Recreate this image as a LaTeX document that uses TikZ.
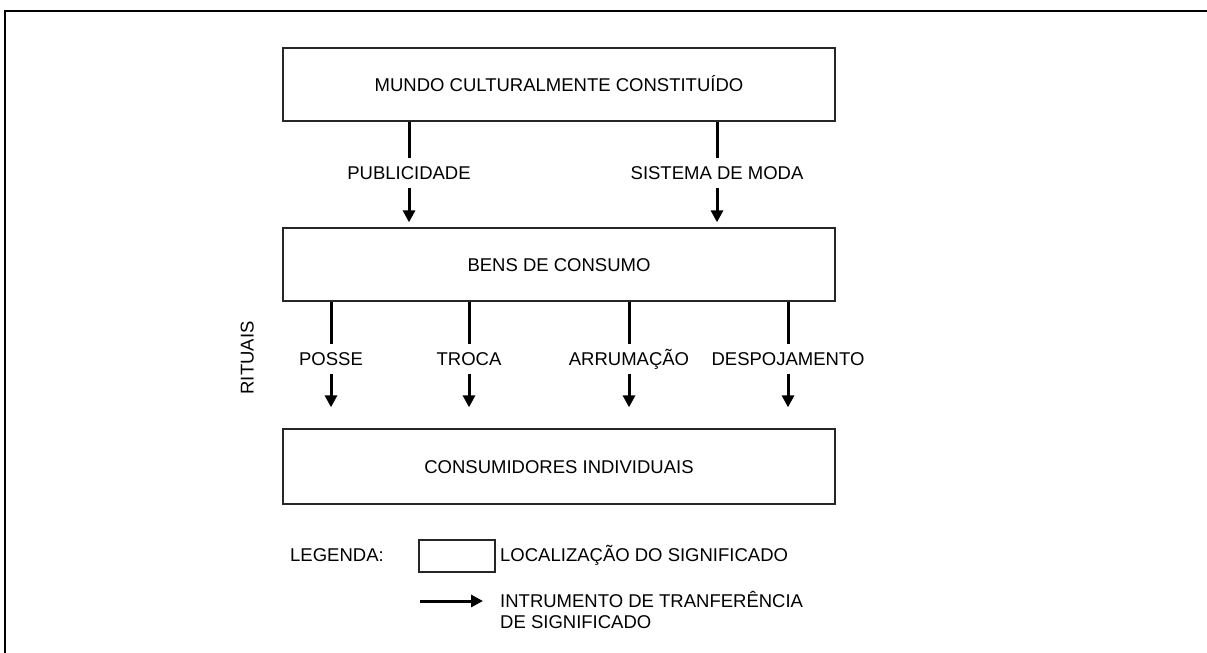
\documentclass[tikz,border=0pt]{standalone}
\usepackage{fontspec}
\setmainfont{Liberation Sans}
\usetikzlibrary{arrows.meta,positioning}

\begin{document}
\begin{tikzpicture}[x=1pt,y=-1pt,font=\fontsize{18.5}{22}\selectfont,
  box/.style={draw=black!85,line width=1.3,minimum width=552,minimum height=73,
    inner sep=0,text height=13,text depth=0},
  lbl/.style={text height=13,text depth=0,inner xsep=0,inner ysep=8},
  flow/.style={line width=3},
  tip/.style={-{Triangle[width=12,length=12]}}]
\useasboundingbox (0,0) rectangle (1207,653);

% moldura
\draw[line width=2.5] (5,653) -- (5,11) -- (1207,11);

\node[box] (mundo) at (559,84.5) {MUNDO CULTURALMENTE CONSTITUÍDO};
\node[box] (bens) at (559,264.5) {BENS DE CONSUMO};
\node[box,minimum height=75] (cons) at (559,466.5) {CONSUMIDORES INDIVIDUAIS};

% publicidade / moda
\foreach \x/\n/\t in {409/pub/PUBLICIDADE, 717/moda/SISTEMA DE MODA}{
  \node[lbl] (\n) at (\x,173) {\t};
  \draw[flow] (mundo.south -| \n) -- (\n.north);
  \draw[flow,tip,shorten >=5] (\n.south) -- (bens.north -| \n);
}

% rituais
\node[lbl,rotate=90] (rituais) at (247,358) {RITUAIS};
\foreach \x/\n/\t in {331/posse/POSSE, 469/troca/TROCA, 629/arr/ARRUMAÇÃO, 788/desp/DESPOJAMENTO}{
  \node[lbl] (\n) at (\x,359) {\t};
  \draw[flow] (bens.south -| \n) -- (\n.north);
  \draw[flow,tip,shorten >=21] (\n.south) -- (cons.north -| \n);
}

% legenda
\node[lbl,anchor=west] (legenda) at (290,555) {LEGENDA:};
\node[draw=black!85,line width=1.3,minimum width=76,minimum height=32,inner sep=0] (legbox) at (457,556) {};
\node[lbl,anchor=west] (loc) at (500,555) {LOCALIZAÇÃO DO SIGNIFICADO};
\node[lbl,anchor=west] (instr) at (500,601) {INTRUMENTO DE TRANFERÊNCIA};
\node[lbl,anchor=west] (instrb) at (500,622) {DE SIGNIFICADO};
\coordinate (legarr) at (420,601);
\draw[flow,tip,shorten >=17] (legarr) -- (legarr -| instr.west);
\end{tikzpicture}
\end{document}
